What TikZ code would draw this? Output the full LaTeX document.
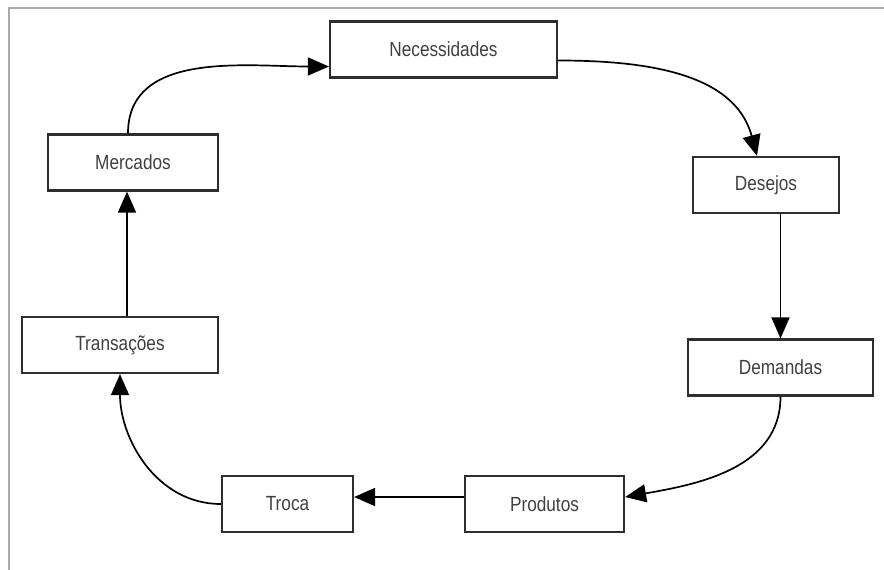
\documentclass[tikz,border=0pt]{standalone}
\usepackage{fontspec}
\setmainfont[FakeStretch=0.84]{Liberation Sans}
\usetikzlibrary{arrows.meta}
\definecolor{textgray}{HTML}{404040}
\definecolor{boxgray}{HTML}{2E2E2E}
\definecolor{framegray}{HTML}{AAAAAA}
\begin{document}
\begin{tikzpicture}[x=1pt, y=-1pt, -{Triangle[length=21pt,width=18pt]}, line width=1.7pt]
		\tikzstyle{caixa} = [rectangle, draw=boxgray, line width=2.2pt, minimum height=56pt, text=textgray, font=\fontsize{20.5}{24}\selectfont]
		\useasboundingbox (0,0) rectangle (884,570);
		\draw[-, framegray, line width=2pt] (9,570) -- (9,8) -- (884,8);
		\node[caixa, minimum width=227pt](A) at (443.5,49.5) {Necessidades};
		\node[caixa, minimum width=146pt](B) at (766,185) {Desejos};
		\node[caixa, minimum width=185pt](C) at (780.5,367.5) {Demandas};
		\node[caixa, minimum width=159pt](D) at (544.5,504) {Produtos};
		\node[caixa, minimum width=131pt](E) at (287.5,504) {Troca};
		\node[caixa, minimum width=196pt](F) at (120,345) {Transações};
		\node[caixa, minimum width=170pt](G) at (133,162.5) {Mercados};
		\draw ([xshift=-5pt]G.north) to[out=90, in=180] ([yshift=-17pt]A.west);
		\draw ([yshift=-11pt]A.east) to[out=0, in=105] ([xshift=-9pt]B.north);
		\draw (C.north |- B.south) -- (C.north);
		\draw (C.south) to[out=-90, in=10] ([yshift=7pt]D.east);
		\draw ([yshift=7pt]D.west) -- ([yshift=7pt]D.west -| E.east);
		\draw (E.west) to[out=180, in=-90] (F.south);
		\draw ([xshift=7pt]F.north) -- ([xshift=7pt]F.north |- G.south);
	\end{tikzpicture}
\end{document}
